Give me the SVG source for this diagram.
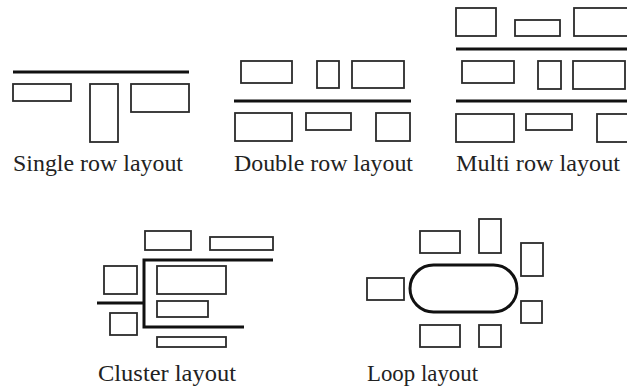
<svg xmlns="http://www.w3.org/2000/svg" width="627" height="390" viewBox="0 0 627 390">
<style>
.m{fill:none;stroke:#2b2b2b;stroke-width:1.8}
.a{fill:none;stroke:#111;stroke-width:3;stroke-linecap:butt}
.t{font-family:"Liberation Serif","DejaVu Serif",serif;font-size:23px;fill:#222}
</style>
<rect width="627" height="390" fill="#fff"/>
<g id="aisles">
<line class="a" x1="13" y1="72" x2="189" y2="72"/>
<line class="a" x1="234" y1="101" x2="411" y2="101"/>
<line class="a" x1="456" y1="49" x2="630" y2="49"/>
<line class="a" x1="456" y1="101" x2="630" y2="101"/>
<polyline class="a" points="273,260 144,260 144,327 244,327"/>
<line class="a" x1="97" y1="303" x2="144" y2="303"/>
<rect id="loop" class="a" x="410" y="265" width="107" height="47" rx="23.5"/>
</g>
<g id="single">
<rect id="s1" class="m" x="13" y="84" width="58" height="17"/>
<rect id="s2" class="m" x="90" y="84" width="28" height="58"/>
<rect id="s3" class="m" x="131" y="84" width="58" height="28"/>
<text class="t" x="13" y="171" textLength="170" lengthAdjust="spacingAndGlyphs">Single row layout</text>
</g>
<g id="double">
<rect id="d1" class="m" x="241" y="61" width="51" height="22"/>
<rect id="d2" class="m" x="317" y="61" width="22" height="27"/>
<rect id="d3" class="m" x="352" y="61" width="52" height="27"/>
<rect id="d4" class="m" x="235" y="113" width="57" height="28"/>
<rect id="d5" class="m" x="306" y="113" width="45" height="17"/>
<rect id="d6" class="m" x="376" y="113" width="34" height="28"/>
<text class="t" x="234" y="171" textLength="179" lengthAdjust="spacingAndGlyphs">Double row layout</text>
</g>
<g id="multi">
<rect id="m1" class="m" x="456" y="8" width="40" height="28"/>
<rect id="m2" class="m" x="515" y="20" width="45" height="16"/>
<rect id="m3" class="m" x="574" y="8" width="60" height="28"/>
<rect id="m4" class="m" x="462" y="61" width="52" height="22"/>
<rect id="m5" class="m" x="538" y="61" width="23" height="28"/>
<rect id="m6" class="m" x="573" y="61" width="52" height="28"/>
<rect id="m7" class="m" x="456" y="114" width="58" height="28"/>
<rect id="m8" class="m" x="526" y="114" width="46" height="16"/>
<rect id="m9" class="m" x="597" y="114" width="40" height="28"/>
<text class="t" x="456" y="171" textLength="164" lengthAdjust="spacingAndGlyphs">Multi row layout</text>
</g>
<g id="cluster">
<rect id="c1" class="m" x="145" y="231" width="46" height="19"/>
<rect id="c2" class="m" x="210" y="237" width="63" height="13"/>
<rect id="c3" class="m" x="104" y="266" width="33" height="28"/>
<rect id="c4" class="m" x="110" y="313" width="27" height="22"/>
<rect id="c5" class="m" x="157" y="266" width="69" height="28"/>
<rect id="c6" class="m" x="157" y="301" width="51" height="16"/>
<rect id="c7" class="m" x="157" y="337" width="69" height="10"/>
<text class="t" x="98" y="381" textLength="138" lengthAdjust="spacingAndGlyphs">Cluster layout</text>
</g>
<g id="looplayout">
<rect id="l1" class="m" x="420" y="231" width="40" height="22"/>
<rect id="l2" class="m" x="479" y="219" width="22" height="34"/>
<rect id="l3" class="m" x="521" y="243" width="22" height="33"/>
<rect id="l4" class="m" x="367" y="278" width="37" height="22"/>
<rect id="l5" class="m" x="521" y="301" width="21" height="22"/>
<rect id="l6" class="m" x="420" y="325" width="40" height="22"/>
<rect id="l7" class="m" x="479" y="325" width="22" height="22"/>
<text class="t" x="367" y="381" textLength="111" lengthAdjust="spacingAndGlyphs">Loop layout</text>
</g>
</svg>
